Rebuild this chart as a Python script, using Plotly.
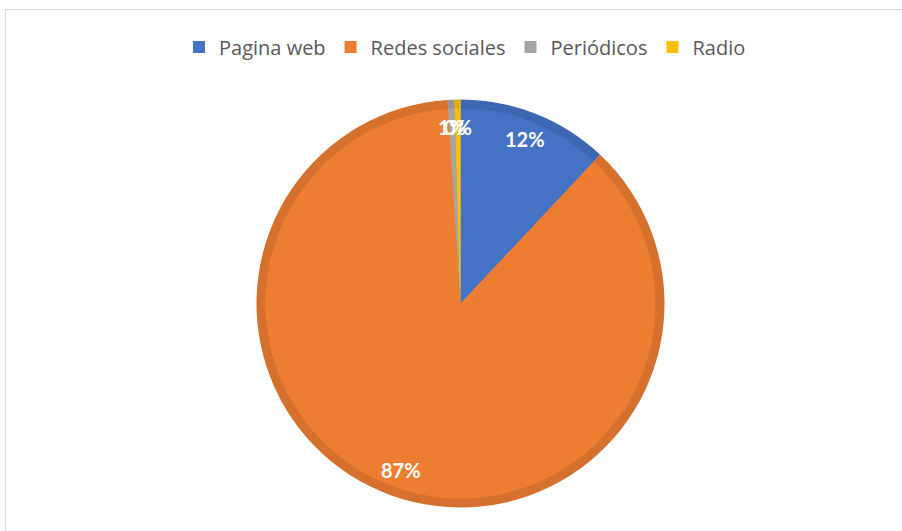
import math
import plotly.graph_objects as go

# ---- data ----
labels = ["Pagina web", "Redes sociales", "Periódicos", "Radio"]
values = [12, 87, 0.55, 0.45]
colors = ["#4472C4", "#ED7D31", "#A5A5A5", "#FFC000"]
dark_colors = ["#3D67B2", "#D5712C", "#959595", "#E6AD00"]

# ---- layout geometry (pixels) ----
W, H = 902, 531
cx, cy = 460.5, 303.5
R = 204
bevel = 9
label_r = 0.865


def dom(r):
    return dict(x=[(cx - r) / W, (cx + r) / W], y=[(H - cy - r) / H, (H - cy + r) / H])


total = sum(values)
pct_text = [f"{int(v / total * 100 + 0.5)}%" for v in values]

fig = go.Figure()
# darker outer (bevel edge)
fig.add_trace(go.Pie(
    labels=labels, values=values, sort=False, direction="clockwise", rotation=0,
    marker=dict(colors=dark_colors, line=dict(width=0)),
    textinfo="none", hoverinfo="skip", showlegend=False, domain=dom(R),
))
# lighter inner face
fig.add_trace(go.Pie(
    labels=labels, values=values, sort=False, direction="clockwise", rotation=0,
    marker=dict(colors=colors, line=dict(width=0)),
    textinfo="none", showlegend=True, domain=dom(R - bevel),
))

# data labels positioned from the slice angles
annotations = []
cum = 0.0
for v, t in zip(values, pct_text):
    mid = (cum + v / 2) / total * 2 * math.pi
    cum += v
    px = cx + label_r * R * math.sin(mid)
    py = cy - label_r * R * math.cos(mid)
    annotations.append(dict(
        x=px / W, y=1 - py / H, xref="paper", yref="paper", text=t, showarrow=False,
        font=dict(family="Lato", size=20, color="white", weight="bold"),
        xanchor="center", yanchor="middle",
    ))

fig.update_layout(
    width=W, height=H, autosize=False,
    margin=dict(l=0, r=0, t=0, b=0, pad=0),
    paper_bgcolor="white", plot_bgcolor="white",
    legend=dict(orientation="h", x=465 / W, y=1 - 47 / H, xanchor="center", yanchor="middle",
                font=dict(family="Open Sans", size=20, color="#595959"), traceorder="normal"),
    annotations=annotations,
    shapes=[dict(type="rect", xref="paper", yref="paper", x0=5.5 / W, x1=1.05,
                 y0=-0.05, y1=1 - 9.5 / H, line=dict(color="#D9D9D9", width=1.2),
                 fillcolor="rgba(0,0,0,0)", layer="below")],
)

fig.write_html("out.html")
